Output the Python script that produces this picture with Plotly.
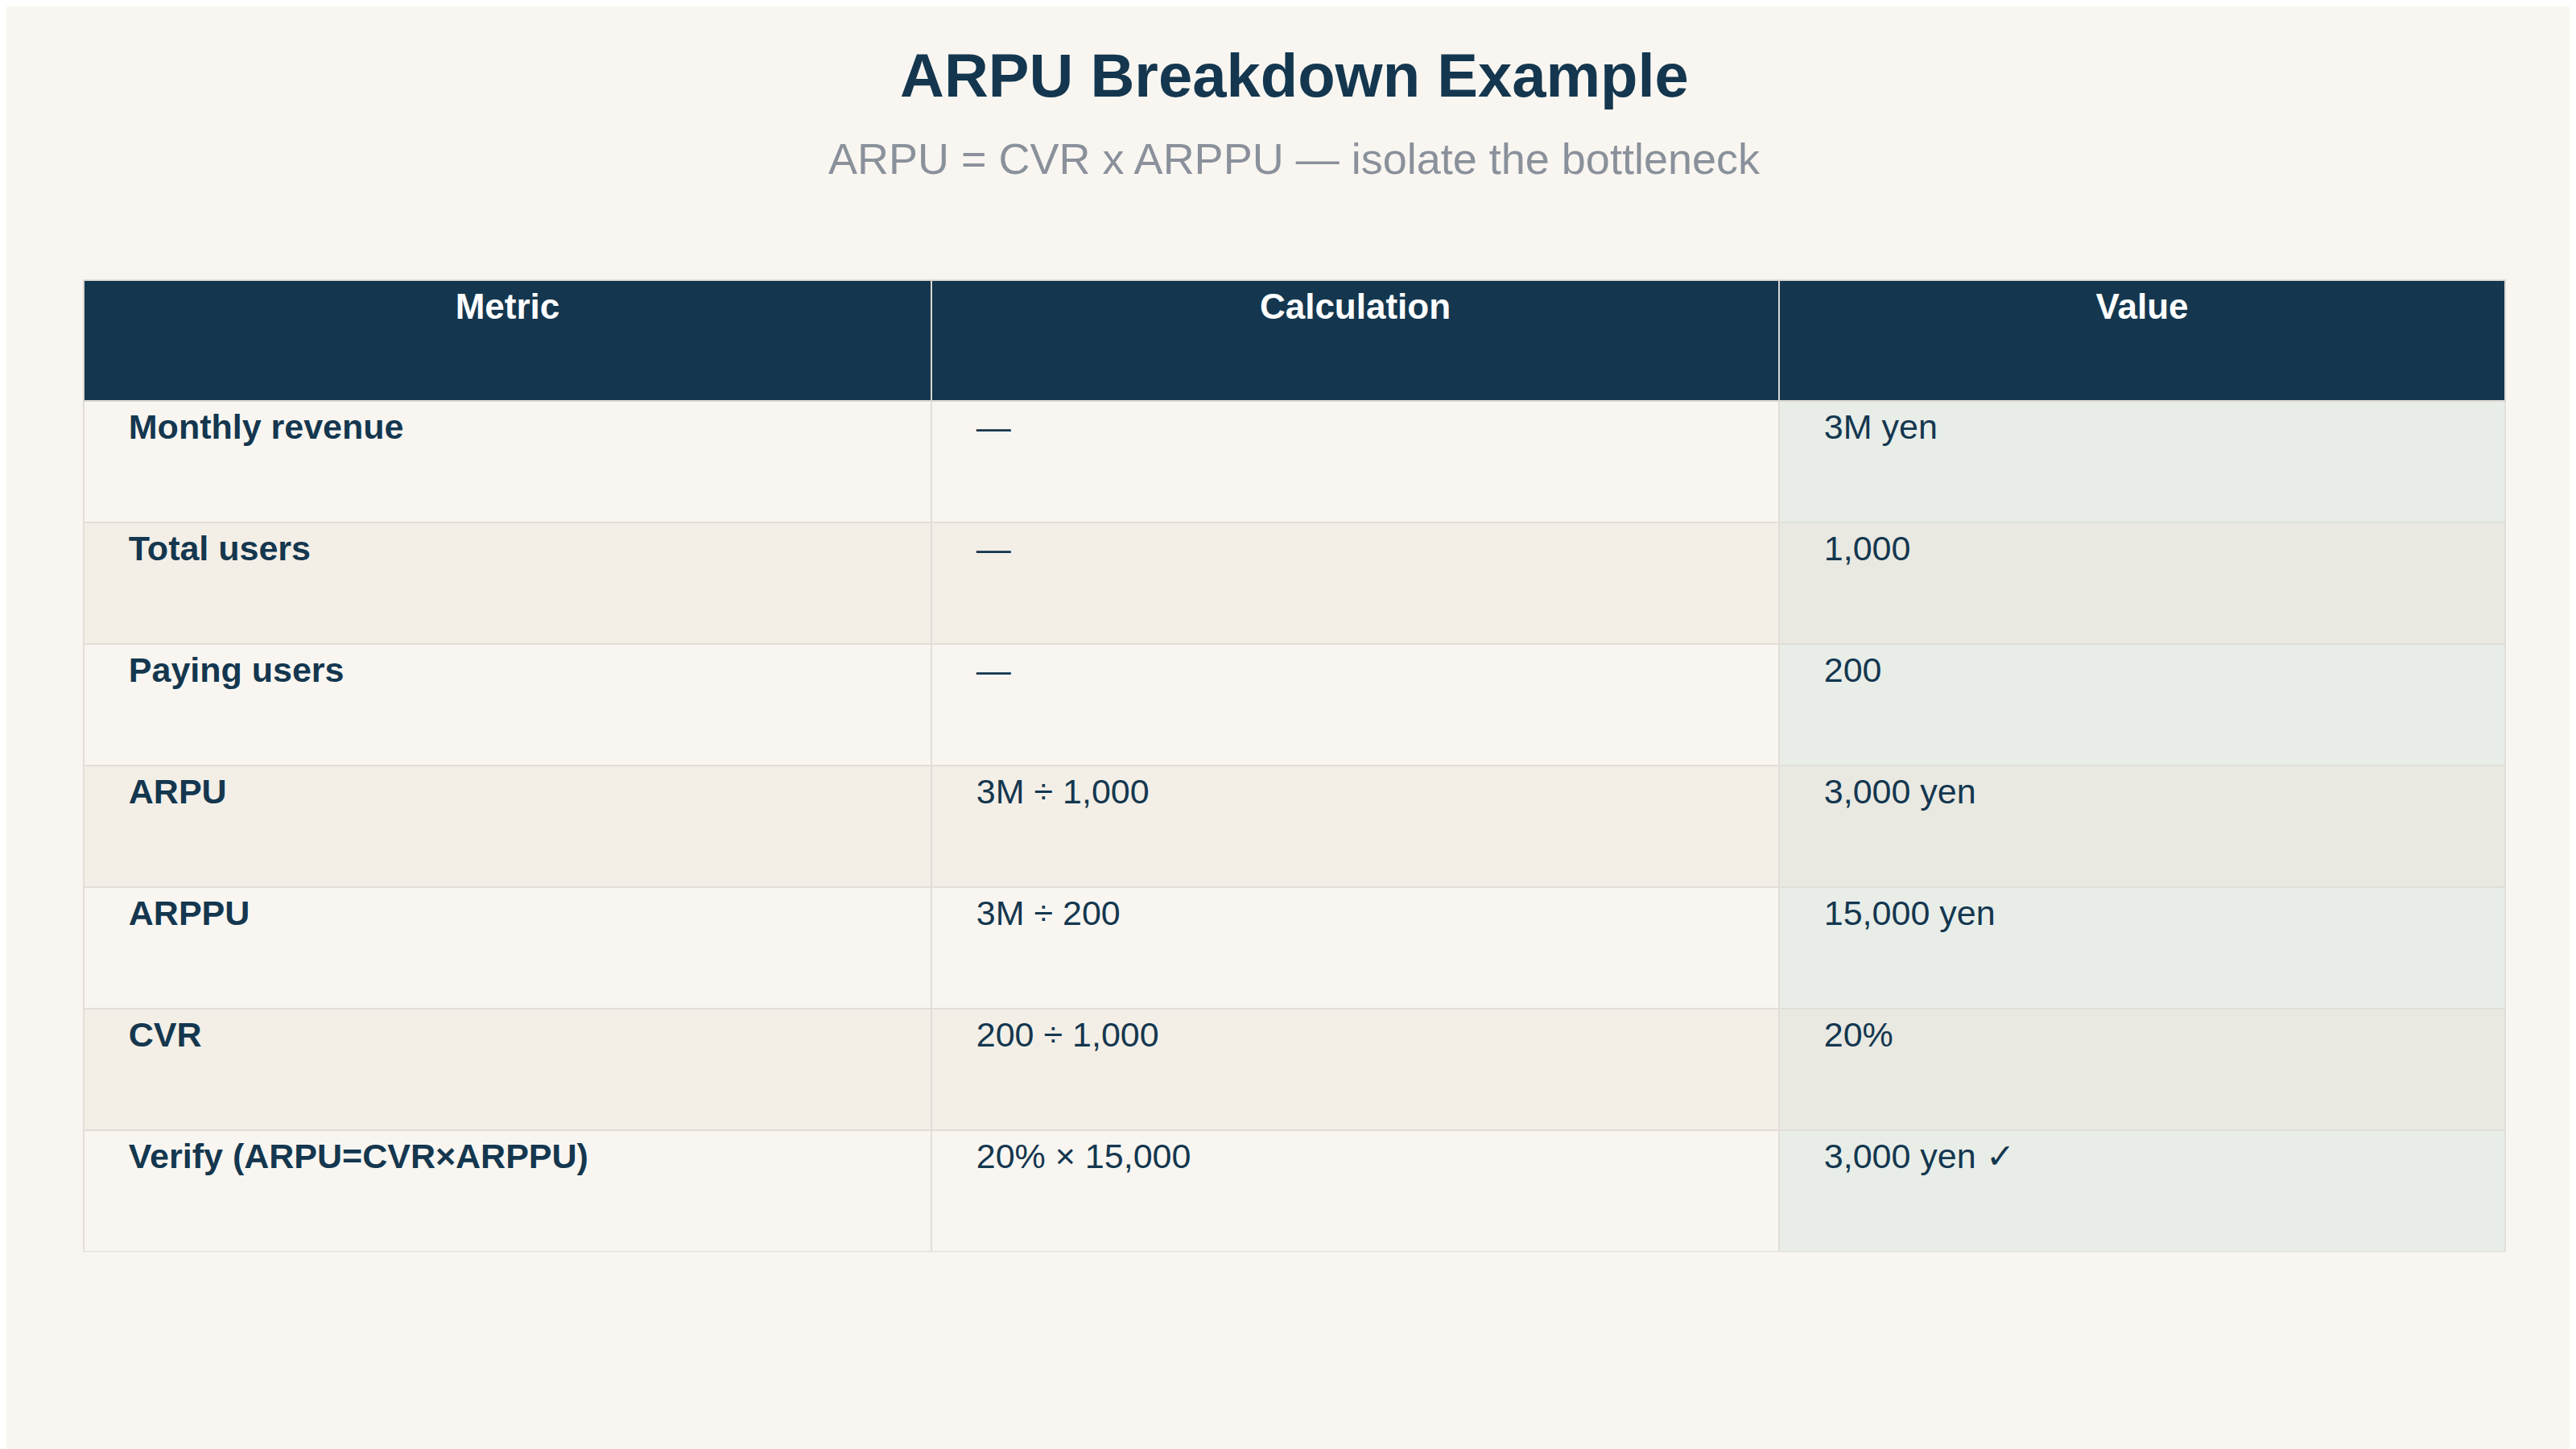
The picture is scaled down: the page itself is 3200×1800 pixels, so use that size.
import plotly.graph_objects as go

headers = ["Metric", "Calculation", "Value"]
metrics = ["Monthly revenue", "Total users", "Paying users", "ARPU", "ARPPU", "CVR", "Verify (ARPU=CVR×ARPPU)"]
calcs = ["—", "—", "—", "3M ÷ 1,000", "3M ÷ 200", "200 ÷ 1,000", "20% × 15,000"]
values = ["3M yen", "1,000", "200", "3,000 yen", "15,000 yen", "20%", "3,000 yen ✓"]

bg = "#f9f6f1"
row_a, row_b = "#f9f6f1", "#f3efe7"
val_a, val_b = "#e8ede8", "#e9e9e2"
dark = "#14374f"
n = len(metrics)
rowfill = [row_a if i % 2 == 0 else row_b for i in range(n)]
valfill = [val_a if i % 2 == 0 else val_b for i in range(n)]
pad = "\u00a0" * 4

def cell(t, bold=False):
    t = f"<b>{t}</b>" if bold else t
    return f"<br>{pad}{t}"

fig = go.Figure(go.Table(
    domain=dict(x=[0.03, 0.97], y=[0.14, 0.811]),
    columnwidth=[516, 516, 442],
    header=dict(values=[f"<br><b>{h}</b>" for h in headers], fill_color=dark,
                font=dict(color="white", size=44, family="Liberation Sans, Arial"),
                align="center", height=150, line=dict(color="#d9d6d0", width=2)),
    cells=dict(values=[[cell(m, True) for m in metrics], [cell(c) for c in calcs], [cell(v) for v in values]],
               fill_color=[rowfill, rowfill, valfill],
               font=dict(color=dark, size=43, family="Liberation Sans, Arial"),
               align="left", height=151, line=dict(color="#e2ded8", width=2)),
))
fig.update_layout(
    width=3200, height=1800, paper_bgcolor=bg, plot_bgcolor=bg,
    margin=dict(l=0, r=0, t=0, b=0),
    annotations=[
        dict(text="<b>ARPU Breakdown Example</b>", x=0.5, y=0.977, xref="paper", yref="paper",
             showarrow=False, font=dict(size=76, color=dark, family="Liberation Sans, Arial")),
        dict(text="ARPU = CVR x ARPPU — isolate the bottleneck", x=0.5, y=0.913, xref="paper", yref="paper",
             showarrow=False, font=dict(size=54, color="#8a919b", family="Liberation Sans, Arial")),
    ],
)
fig.write_html("out.html")
